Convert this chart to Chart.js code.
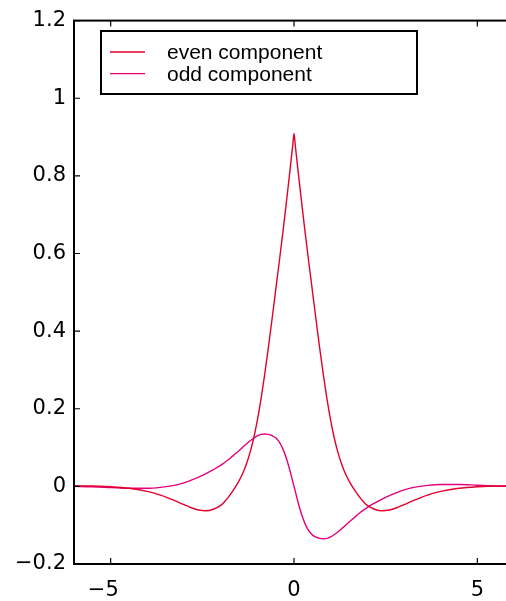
<!DOCTYPE html>
<html lang="en">

<head>
    <meta charset="UTF-8">
    <title>Even and odd components</title>
    <script src="https://cdn.jsdelivr.net/npm/chart.js"></script>
    <style>
        body {
            margin: 0;
            background: #ffffff;
            overflow: hidden;
        }

        .plot {
            position: relative;
            width: 514px;
            height: 601px;
        }
    </style>
</head>

<body>

    <div class="plot">
        <canvas id="components"></canvas>
    </div>

    <script>
        const xValues = [-6, -5.5, -5, -4.5, -4, -3.6, -3.3, -3, -2.8, -2.6, -2.4, -2.2,
            -2, -1.9, -1.8, -1.7, -1.6, -1.5, -1.4, -1.3, -1.2, -1.1,
            -1, -0.9, -0.8, -0.7, -0.6, -0.5, -0.4, -0.3, -0.2, -0.1, -0.03,
            0,
            0.03, 0.1, 0.2, 0.3, 0.4, 0.5, 0.6, 0.7, 0.8, 0.9, 1,
            1.1, 1.2, 1.3, 1.4, 1.5, 1.6, 1.7, 1.8, 1.9, 2,
            2.2, 2.4, 2.6, 2.8, 3, 3.3, 3.6, 4, 4.5, 5, 5.5, 6];

        const evenValues = [0.001, 0.001, -0.001, -0.005, -0.013, -0.024, -0.035, -0.047, -0.055, -0.061, -0.063, -0.059,
            -0.049, -0.04, -0.029, -0.016, -0.002, 0.014, 0.033, 0.057, 0.087, 0.124,
            0.17, 0.225, 0.288, 0.357, 0.43, 0.505, 0.58, 0.657, 0.738, 0.822, 0.883,
            0.909,
            0.883, 0.822, 0.738, 0.657, 0.58, 0.505, 0.43, 0.357, 0.288, 0.225, 0.17,
            0.124, 0.087, 0.057, 0.033, 0.014, -0.002, -0.016, -0.029, -0.04, -0.049,
            -0.059, -0.063, -0.061, -0.055, -0.047, -0.035, -0.024, -0.013, -0.005, -0.001, 0.001, 0.001];

        const oddValues = [0.0, -0.001, -0.003, -0.005, -0.005, -0.002, 0.002, 0.009, 0.016, 0.024, 0.033, 0.043,
            0.054, 0.061, 0.068, 0.076, 0.084, 0.092, 0.101, 0.109, 0.117, 0.124,
            0.13, 0.134, 0.135, 0.134, 0.131, 0.125, 0.114, 0.096, 0.07, 0.037, 0.011,
            0.0,
            -0.011, -0.037, -0.07, -0.096, -0.114, -0.125, -0.131, -0.134, -0.135, -0.134, -0.13,
            -0.124, -0.117, -0.109, -0.101, -0.092, -0.084, -0.076, -0.068, -0.061, -0.054,
            -0.043, -0.033, -0.024, -0.016, -0.009, -0.002, 0.002, 0.005, 0.005, 0.003, 0.001, 0.0];

        const seriesNames = ['even component', 'odd component'];
        const seriesColors = ['#e3002b', '#e6007e'];

        const xTicks = [-5, 0, 5];
        // trailing space keeps the digit, not the minus sign, over the tick
        const xTickLabels = ['\u22125\u2002\u2009', '0', '5'];
        const yTicks = [-0.2, 0, 0.2, 0.4, 0.6, 0.8, 1, 1.2];
        const yTickLabels = ['\u22120.2', '0', '0.2', '0.4', '0.6', '0.8', '1', '1.2'];

        function toPoints(ys) {
            return xValues.map((x, i) => ({ x: x, y: ys[i] }));
        }

        // box round the axes with inward ticks, matlab style
        const frameTicks = {
            id: 'frameTicks',
            afterDraw(chart) {
                const ctx = chart.ctx;
                const area = chart.chartArea;
                const xs = chart.scales.x;
                const ys = chart.scales.y;
                const len = 6;
                ctx.save();
                ctx.strokeStyle = '#000';
                ctx.lineWidth = 2;
                ctx.strokeRect(area.left, area.top, area.right - area.left, area.bottom - area.top);
                ctx.lineWidth = 1.2;
                ctx.beginPath();
                xTicks.forEach(v => {
                    const px = xs.getPixelForValue(v);
                    ctx.moveTo(px, area.bottom);
                    ctx.lineTo(px, area.bottom - len);
                    ctx.moveTo(px, area.top);
                    ctx.lineTo(px, area.top + len);
                });
                yTicks.forEach(v => {
                    const py = ys.getPixelForValue(v);
                    ctx.moveTo(area.left, py);
                    ctx.lineTo(area.left + len, py);
                    ctx.moveTo(area.right, py);
                    ctx.lineTo(area.right - len, py);
                });
                ctx.stroke();
                ctx.restore();
            }
        };

        // legend drawn as a framed box inside the axes
        const boxLegend = {
            id: 'boxLegend',
            afterDraw(chart) {
                const ctx = chart.ctx;
                ctx.save();
                ctx.fillStyle = '#fff';
                ctx.fillRect(101, 31, 316, 63);
                ctx.strokeStyle = '#000';
                ctx.lineWidth = 2;
                ctx.strokeRect(101, 31, 316, 63);
                ctx.font = '21px "Liberation Sans", Arial, sans-serif';
                ctx.textBaseline = 'alphabetic';
                chart.data.datasets.forEach((ds, i) => {
                    const y = 52 + i * 21.6;
                    ctx.strokeStyle = ds.borderColor;
                    ctx.lineWidth = 1.4;
                    ctx.beginPath();
                    ctx.moveTo(110, y);
                    ctx.lineTo(145, y);
                    ctx.stroke();
                    ctx.fillStyle = '#000';
                    ctx.fillText(ds.label, 167, y + 7.3);
                });
                ctx.restore();
            }
        };

        const tickFont = { family: '"DejaVu Sans", sans-serif', size: 21 };

        new Chart(document.getElementById('components'), {
            type: 'line',
            data: {
                datasets: seriesNames.map((name, i) => ({
                    label: name,
                    data: toPoints(i === 0 ? evenValues : oddValues),
                    borderColor: seriesColors[i],
                    borderWidth: 1.4,
                    pointRadius: 0,
                    cubicInterpolationMode: 'monotone',
                    fill: false
                }))
            },
            options: {
                responsive: true,
                maintainAspectRatio: false,
                animation: false,
                layout: { padding: { top: 17, left: 0, right: 0, bottom: 0 } },
                plugins: {
                    legend: { display: false },
                    tooltip: { enabled: false }
                },
                scales: {
                    x: {
                        type: 'linear',
                        min: -6,
                        max: 6,
                        grid: { display: false, drawTicks: false },
                        border: { display: false },
                        afterBuildTicks: s => { s.ticks = xTicks.map(v => ({ value: v })); },
                        afterFit: s => { s.height = 37; },
                        ticks: {
                            color: '#000',
                            font: tickFont,
                            padding: 14,
                            maxRotation: 0,
                            callback: v => xTickLabels[xTicks.indexOf(v)]
                        }
                    },
                    y: {
                        min: -0.2,
                        max: 1.2,
                        grid: { display: false, drawTicks: false },
                        border: { display: false },
                        afterBuildTicks: s => { s.ticks = yTicks.map(v => ({ value: v })); },
                        afterFit: s => { s.width = 74; },
                        ticks: {
                            color: '#000',
                            font: tickFont,
                            padding: 8,
                            callback: v => yTickLabels[yTicks.indexOf(v)]
                        }
                    }
                }
            },
            plugins: [frameTicks, boxLegend]
        });
    </script>

</body>

</html>
